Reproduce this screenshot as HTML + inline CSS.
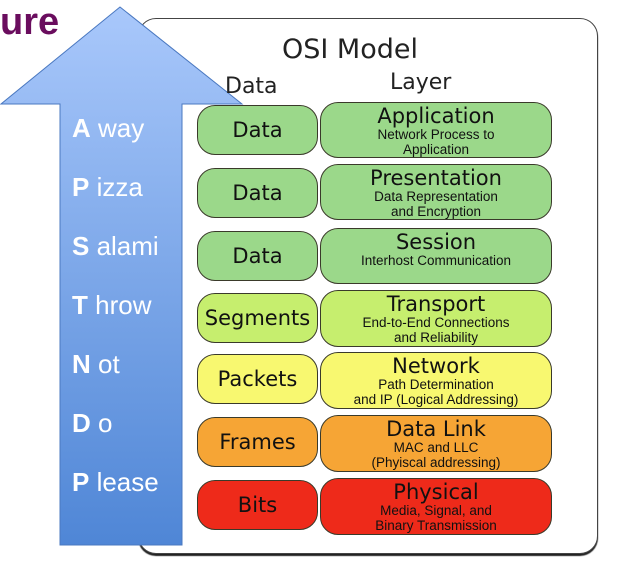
<!DOCTYPE html>
<html><head><style>
body{margin:0;width:619px;height:564px;background:#fff;position:relative;overflow:hidden;font-family:"DejaVu Sans","Liberation Sans",sans-serif}
.a{position:absolute}
.panel{left:138px;top:18px;width:458px;height:534px;border:1.5px solid #444;border-radius:18px;background:#fff;box-shadow:0 2px 1px #222}
.b{position:absolute;border:1.5px solid #3a3a2a;border-radius:18px;text-align:center;box-sizing:border-box;color:#111}
.l{left:197px;width:121px;font-size:21px;display:flex;align-items:center;justify-content:center}
.r{left:320px;width:232px;line-height:1}
.r .t{font-size:21px;margin-top:3px}
.r .s{font-family:"Liberation Sans",sans-serif;font-size:13.5px;line-height:15px}
.w{position:absolute;left:72px;color:#fff;font-family:"Liberation Sans",sans-serif;font-size:26px}
.w b{font-weight:bold}
</style></head><body>
<div class="a" style="left:0;top:1px;font:bold 38px 'Liberation Sans',sans-serif;color:#6a0d5e">ure</div>
<div class="a panel"></div>
<svg class="a" style="left:0;top:0" width="250" height="550">
<defs><linearGradient id="g" x1="0" y1="0" x2="0" y2="1"><stop offset="0" stop-color="#a9c8fb"/><stop offset="1" stop-color="#4f86d6"/></linearGradient></defs>
<polygon points="120,7 242,104 182,104 182,545 60,545 60,104 1,104" fill="url(#g)" stroke="#4a78c0" stroke-width="1"/>
</svg>
<div class="a" style="left:282px;top:34px;font-size:27px;color:#222">OSI Model</div>
<div class="a" style="left:225px;top:74px;font-size:22px;color:#222">Data</div>
<div class="a" style="left:390px;top:70px;font-size:22px;color:#222">Layer</div>
<div class="w" style="top:113px"><b>A</b> way</div>
<div class="w" style="top:172px"><b>P</b> izza</div>
<div class="w" style="top:231px"><b>S</b> alami</div>
<div class="w" style="top:290px"><b>T</b> hrow</div>
<div class="w" style="top:349px"><b>N</b> ot</div>
<div class="w" style="top:408px"><b>D</b> o</div>
<div class="w" style="top:467px"><b>P</b> lease</div>

<div class="b l" style="top:105px;height:50px;background:#9bd88a">Data</div>
<div class="b r" style="top:102px;height:56px;background:#9bd88a"><div class="t">Application</div><div class="s">Network Process to<br>Application</div></div>
<div class="b l" style="top:168px;height:50px;background:#9bd88a">Data</div>
<div class="b r" style="top:164px;height:56px;background:#9bd88a"><div class="t">Presentation</div><div class="s">Data Representation<br>and Encryption</div></div>
<div class="b l" style="top:231px;height:50px;background:#9bd88a">Data</div>
<div class="b r" style="top:228px;height:56px;background:#9bd88a"><div class="t">Session</div><div class="s">Interhost Communication</div></div>
<div class="b l" style="top:293px;height:50px;background:#c6ee6e">Segments</div>
<div class="b r" style="top:290px;height:57px;background:#c6ee6e"><div class="t">Transport</div><div class="s">End-to-End Connections<br>and Reliability</div></div>
<div class="b l" style="top:354px;height:50px;background:#f8f870">Packets</div>
<div class="b r" style="top:352px;height:57px;background:#f8f870"><div class="t">Network</div><div class="s">Path Determination<br>and IP (Logical Addressing)</div></div>
<div class="b l" style="top:417px;height:50px;background:#f6a535">Frames</div>
<div class="b r" style="top:415px;height:57px;background:#f6a535"><div class="t">Data Link</div><div class="s">MAC and LLC<br>(Phyiscal addressing)</div></div>
<div class="b l" style="top:480px;height:50px;background:#ee2a1a">Bits</div>
<div class="b r" style="top:478px;height:57px;background:#ee2a1a"><div class="t">Physical</div><div class="s">Media, Signal, and<br>Binary Transmission</div></div>
</body></html>
